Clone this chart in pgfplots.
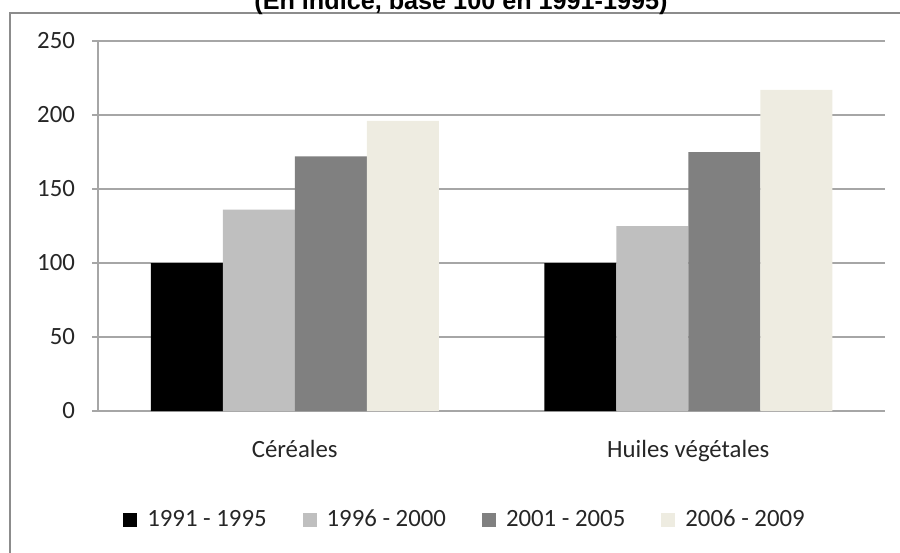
\documentclass[border=0pt]{standalone}
\usepackage{pgfplots}
\pgfplotsset{compat=1.18}
\usepackage{fontspec}
\setmainfont{Carlito}
\newfontfamily\titlefont{Liberation Sans}
\definecolor{cA}{HTML}{000000}
\definecolor{cB}{HTML}{BFBFBF}
\definecolor{cC}{HTML}{808080}
\definecolor{cD}{HTML}{EEECE1}
\definecolor{gridc}{HTML}{A6A6A6}
\definecolor{framec}{HTML}{8C8C8C}
\begin{document}
\begin{tikzpicture}
\useasboundingbox (0,0) rectangle (450pt,276pt);
\draw[color=framec, line width=1pt] (5pt,-5pt) rectangle (455pt,269.5pt);
\node[font=\titlefont\bfseries\fontsize{12.6}{14}\selectfont, anchor=base] at (230.5pt,271pt) {(En indice, base 100 en 1991-1995)};
\begin{axis}[
  at={(49pt,70.5pt)}, anchor=south west,
  scale only axis, width=393.5pt, height=185pt,
  ybar=0pt, bar width=36pt,
  xmin=-0.5, xmax=1.5, ymin=0, ymax=250,
  ytick={0,50,...,250},
  xtick={0,1}, xticklabels={Céréales, Huiles végétales},
  xtick style={draw=none},
  extra x ticks={-0.5,0.5,1.5}, extra x tick labels={},
  extra x tick style={major tick length=4pt, tick align=outside, tick style={draw=gridc, line width=0.6pt}},
  axis lines*=left,
  axis line style={draw=gridc, line width=0.6pt},
  ytick style={draw=gridc, line width=0.6pt},
  tick align=outside, major tick length=3pt,
  ymajorgrids, grid style={draw=gridc, line width=0.7pt},
  tick label style={font=\fontsize{12.4}{14}\selectfont, text=black!85},
  /pgf/number format/assume math mode=true,
  yticklabel style={xshift=-5pt},
  xticklabel style={yshift=-8pt},
  legend style={at={(0.4676,-0.2946)}, anchor=center, draw=none, fill=none,
    legend columns=4, font=\fontsize{12.4}{14}\selectfont, text=black!85,
    cells={anchor=base west},
    /tikz/every odd column/.append style={column sep=3pt},
    /tikz/every even column/.append style={column sep=16pt}},
]
\addplot[fill=cA, draw=none, legend image code/.code={\fill[cA] (0pt,0pt) rectangle (7pt,7pt);}] coordinates {(0,100) (1,100)};
\addplot[fill=cB, draw=none, legend image code/.code={\fill[cB] (0pt,0pt) rectangle (7pt,7pt);}] coordinates {(0,136) (1,125)};
\addplot[fill=cC, draw=none, legend image code/.code={\fill[cC] (0pt,0pt) rectangle (7pt,7pt);}] coordinates {(0,172) (1,175)};
\addplot[fill=cD, draw=none, legend image code/.code={\fill[cD] (0pt,0pt) rectangle (7pt,7pt);}] coordinates {(0,196) (1,217)};
\legend{1991 - 1995, 1996 - 2000, 2001 - 2005, 2006 - 2009}
\end{axis}
\end{tikzpicture}
\end{document}
